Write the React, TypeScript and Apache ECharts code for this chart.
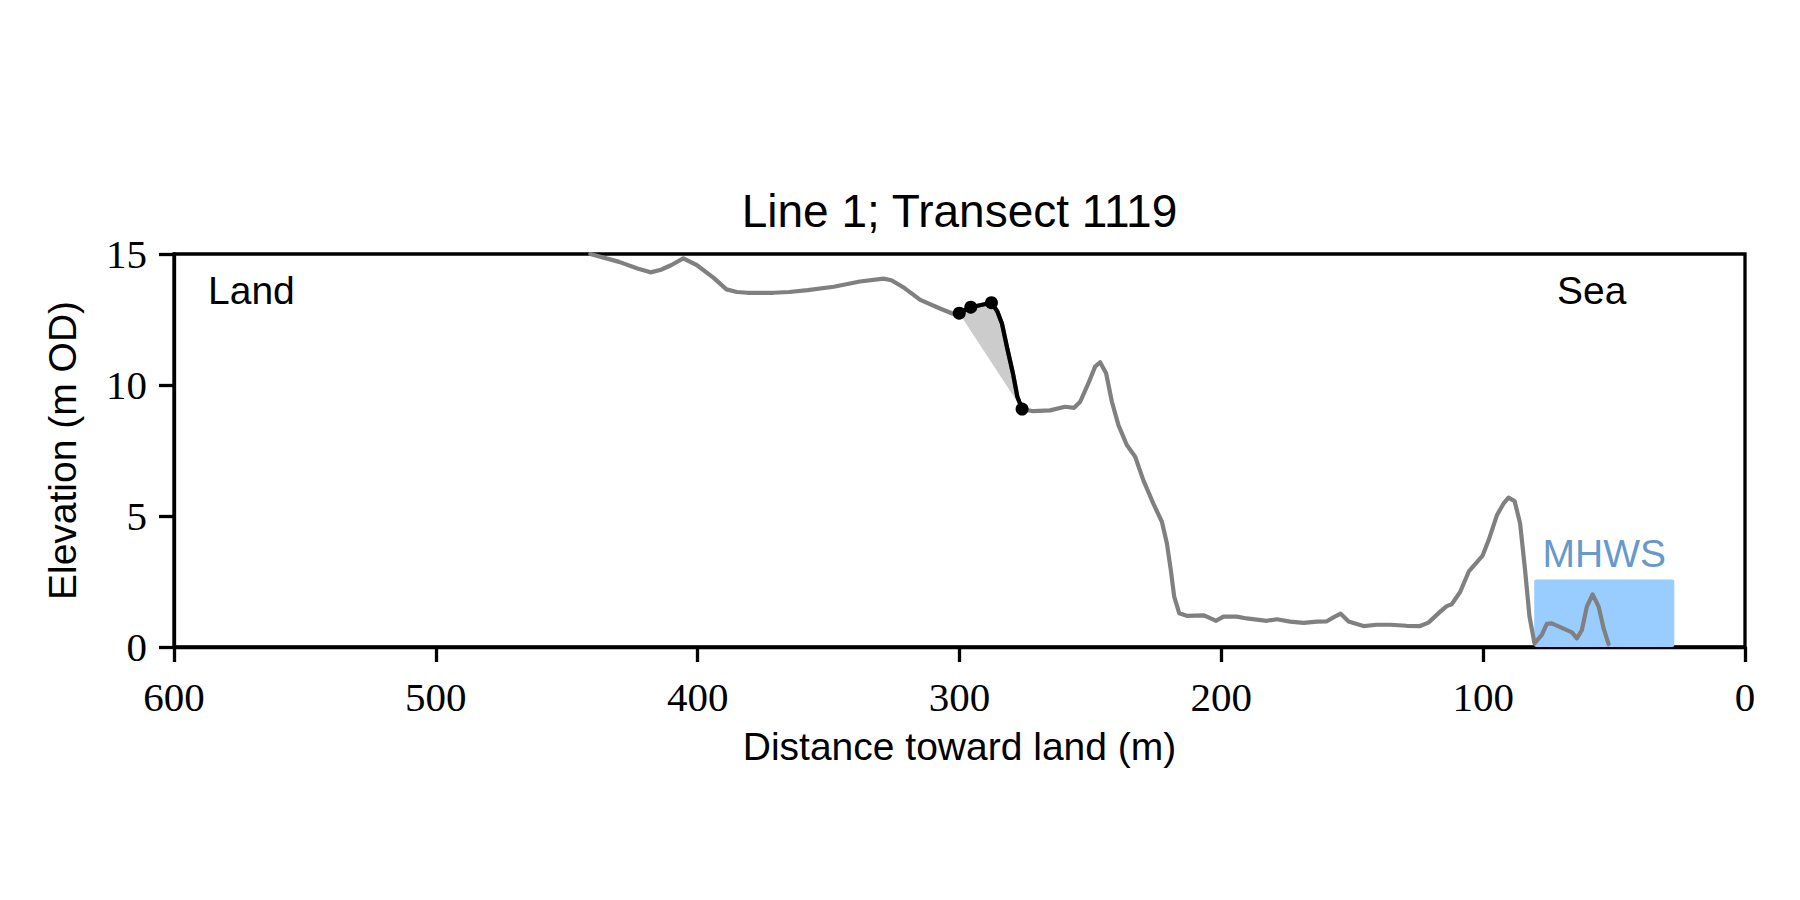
import React, { useEffect, useRef } from "react";
import * as echarts from "echarts";

// Profile along transect: distance toward land (m) and elevation (m OD)
const profileDistance = [
  441, 430, 423, 418, 414, 410, 405.5, 400.4, 394, 389, 385, 381, 371, 365, 358, 348, 338, 329, 326, 321,
  315, 307, 302.5, 300.1, 295.7, 287.8, 285.5, 283.8, 281.9, 279.5, 277.9, 276.1, 271.8, 265.4, 259.7,
  256.2, 253.9, 250.8, 248.2, 246.3, 244, 241.8, 239.3, 236.1, 232.9, 229.8, 226, 222.7, 220.8, 219.3,
  218, 216.1, 213.2, 206.8, 204.9, 202, 199.2, 194.1, 190.3, 182.6, 178.8, 173.7, 168.6, 163.5, 159.7,
  157.2, 154.4, 151.4, 145.7, 140.6, 135.5, 129.2, 124.1, 120.9, 116.4, 113.9, 112, 108.8, 105.4, 100.2,
  97.9, 94.7, 92.2, 90.3, 88, 85.9, 84, 82.3, 80.4, 77.6, 75.7, 73.8, 66.1, 64.2, 62.3, 60.4, 58.2, 55.9,
  54.0, 52.1,
];
const profileElevation = [
  15.0, 14.7, 14.45, 14.3, 14.4, 14.58, 14.83, 14.58, 14.1, 13.65, 13.55, 13.52, 13.52, 13.55, 13.62, 13.75,
  13.95, 14.06, 14.0, 13.7, 13.25, 12.9, 12.72, 12.74, 12.97, 13.14, 12.8, 12.35, 11.46, 10.4, 9.55, 9.08,
  9.0, 9.03, 9.17, 9.13, 9.36, 10.06, 10.7, 10.87, 10.45, 9.36, 8.47, 7.71, 7.26, 6.37, 5.48, 4.78, 3.96,
  2.94, 1.92, 1.29, 1.19, 1.21, 1.13, 1.0, 1.16, 1.16, 1.09, 1.0, 1.06, 0.97, 0.92, 0.97, 0.98, 1.13, 1.27,
  0.97, 0.8, 0.85, 0.85, 0.81, 0.8, 0.93, 1.35, 1.56, 1.63, 2.1, 2.9, 3.49, 4.08, 5.04, 5.48, 5.7, 5.57,
  4.72, 2.94, 1.16, 0.14, 0.46, 0.88, 0.9, 0.56, 0.33, 0.65, 1.54, 2.01, 1.54, 0.71, 0.11,
];

// Cliff segment (top to toe) and its picked points
const cliffDistance = [300.1, 295.7, 287.8, 285.5, 283.8, 281.9, 279.5, 277.9, 276.1];
const cliffElevation = [12.74, 12.97, 13.14, 12.8, 12.35, 11.46, 10.4, 9.55, 9.08];
const pickDistance = [300.1, 295.7, 287.8, 276.1];
const pickElevation = [12.74, 12.97, 13.14, 9.08];

// Mean High Water Springs band
const mhwsStart = 80.5;
const mhwsEnd = 27;
const mhwsLevel = 2.58;
const mhwsLabel = "MHWS";

const xTicks = { min: 0, max: 600, interval: 100 };
const yTicks = { min: 0, max: 15, interval: 5 };

const SANS = "Liberation Sans";
const SERIF = "Liberation Serif";

export default function App() {
  const ref = useRef<HTMLDivElement>(null);

  useEffect(() => {
    if (!ref.current) return;
    const chart = echarts.init(ref.current, null, { renderer: "svg" });

    const profile = profileDistance.map((d, i) => [d, profileElevation[i]]);
    const cliff = cliffDistance.map((d, i) => [d, cliffElevation[i]]);
    const picks = pickDistance.map((d, i) => [d, pickElevation[i]]);

    const axisLine = { show: true, onZero: false, lineStyle: { color: "#000", width: 3.3 } };
    const axisTick = { show: true, inside: false, length: 15, lineStyle: { color: "#000", width: 3.3 } };

    chart.setOption({
      animation: false,
      backgroundColor: "#fff",
      grid: {
        left: 174,
        top: 254,
        width: 1571,
        height: 393,
        show: true,
        borderColor: "#000",
        borderWidth: 3.3,
        containLabel: false,
      },
      xAxis: {
        type: "value",
        inverse: true,
        min: xTicks.min,
        max: xTicks.max,
        interval: xTicks.interval,
        axisLine,
        axisTick,
        splitLine: { show: false },
        axisLabel: { color: "#000", fontFamily: SERIF, fontSize: 41, margin: 29 },
        name: "Distance toward land (m)",
        nameLocation: "middle",
        nameGap: 80,
        nameTextStyle: { color: "#000", fontFamily: SANS, fontSize: 39 },
      },
      yAxis: {
        type: "value",
        min: yTicks.min,
        max: yTicks.max,
        interval: yTicks.interval,
        axisLine,
        axisTick,
        splitLine: { show: false },
        axisLabel: { color: "#000", fontFamily: SERIF, fontSize: 41, margin: 27 },
        name: "Elevation (m OD)",
        nameLocation: "middle",
        nameGap: 92,
        nameRotate: 90,
        nameTextStyle: { color: "#000", fontFamily: SANS, fontSize: 39 },
      },
      graphic: [
        {
          type: "text",
          x: 959.5,
          y: 211,
          style: {
            text: "Line 1; Transect 1119",
            fontFamily: SANS,
            fontSize: 46,
            fill: "#000",
            align: "center",
            verticalAlign: "middle",
          },
        },
        {
          type: "text",
          x: 208,
          y: 290,
          style: { text: "Land", fontFamily: SANS, fontSize: 39, fill: "#000", align: "left", verticalAlign: "middle" },
        },
        {
          type: "text",
          x: 1557,
          y: 290,
          style: { text: "Sea", fontFamily: SANS, fontSize: 39, fill: "#000", align: "left", verticalAlign: "middle" },
        },
      ],
      series: [
        {
          type: "custom",
          name: "MHWS",
          silent: true,
          z: 1,
          data: [[mhwsStart, mhwsLevel]],
          renderItem: (_params: any, api: any) => {
            const a = api.coord([mhwsStart, mhwsLevel]);
            const b = api.coord([mhwsEnd, 0]);
            const x = Math.min(a[0], b[0]);
            const w = Math.abs(b[0] - a[0]);
            const y = Math.min(a[1], b[1]);
            const h = Math.abs(b[1] - a[1]);
            return {
              type: "group",
              children: [
                { type: "rect", shape: { x, y, width: w, height: h, r: 2 }, style: { fill: "#99ccff" } },
                {
                  type: "text",
                  x: x + w / 2,
                  y: y - 26,
                  style: {
                    text: mhwsLabel,
                    fontFamily: SANS,
                    fontSize: 39,
                    fill: "#6699cc",
                    align: "center",
                    verticalAlign: "middle",
                  },
                },
              ],
            };
          },
        },
        {
          type: "custom",
          name: "Cliff area",
          silent: true,
          z: 2,
          data: [[cliffDistance[0], cliffElevation[0]]],
          renderItem: (_params: any, api: any) => {
            const pts = cliffDistance.map((d, i) => api.coord([d, cliffElevation[i]]));
            return { type: "polygon", shape: { points: pts }, style: { fill: "#cccccc" } };
          },
        },
        {
          type: "line",
          name: "Profile",
          z: 3,
          data: profile,
          showSymbol: false,
          symbol: "none",
          lineStyle: { color: "#808080", width: 4.2, cap: "round", join: "round" },
        },
        {
          type: "line",
          name: "Cliff",
          z: 4,
          data: cliff,
          showSymbol: false,
          symbol: "none",
          lineStyle: { color: "#000", width: 4.2, cap: "round", join: "round" },
        },
        {
          type: "scatter",
          name: "Picks",
          z: 5,
          data: picks,
          symbol: "circle",
          symbolSize: 13,
          itemStyle: { color: "#000", opacity: 1 },
        },
      ],
    });

    return () => chart.dispose();
  }, []);

  return (
    <div
      ref={ref}
      style={{ position: "fixed", left: 0, top: 0, width: 1800, height: 900, background: "#fff" }}
    />
  );
}
